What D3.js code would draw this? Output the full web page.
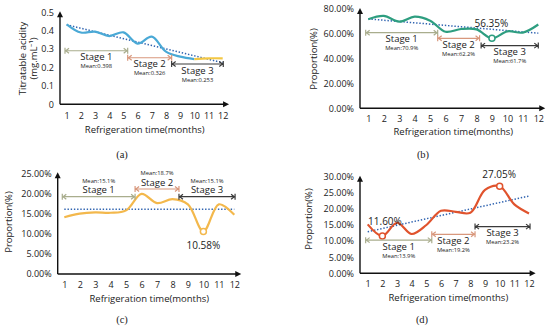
<!DOCTYPE html>
<html><head><meta charset="utf-8">
<script src="https://cdn.jsdelivr.net/npm/d3@7"></script>
<style>body{margin:0;background:#fff}svg{display:block;background:#fff}text{font-family:"Open Sans",sans-serif;fill:#222}</style>
</head><body><svg id="c" width="550" height="331"></svg>
<script>
const months=[1,2,3,4,5,6,7,8,9,10,11,12];
const acidityMonths=[1,2,3,4,5,6,7,8,9,10];
const acidity=[0.435,0.39,0.395,0.371,0.391,0.33,0.368,0.286,0.259,0.246];
const acidityTailMonths=[10,11,12];
const acidityTail=[0.246,0.25,0.25];
const propB=[71.7,74.4,69.8,73.8,70.6,61.7,63.9,63.6,56.35,62,61,67.5];
const propC=[14.1,15.0,15.3,15.2,15.8,19.9,17.6,18.6,17.3,10.58,17.3,14.7];
const propD=[15.2,11.6,15.7,12.2,15.0,19.4,19.1,18.8,25.9,27.05,21.4,18.6];
const trendA=[0.432,0.226];
const trendB=[72,60.5];
const trendC=[16.05,16.05];
const trendD=[12.9,24];
const ticksA=[0,0.1,0.2,0.3,0.4,0.5];
const ticksB=[0,20,40,60,80];
const ticksC=[0,5,10,15,20,25];
const ticksD=[0,5,10,15,20,25,30];
const stageNames=["Stage 1","Stage 2","Stage 3"];
const meansA=["Mean:0.398","Mean:0.326","Mean:0.253"];
const meansB=["Mean:70.9%","Mean:62.2%","Mean:61.7%"];
const meansC=["Mean:15.1%","Mean:18.7%","Mean:15.1%"];
const meansD=["Mean:13.9%","Mean:19.2%","Mean:23.2%"];
const stageSpanA=[[0.88,5.3],[5.3,8.4],[8.4,12.04]];
const stageLevelA=[0.291,0.253,0.219];
const stageSpanB=[[0.83,5.49],[5.49,8.2],[8.3,12]];
const stageLevelB=[60.9,56.4,50.5];
const stageSpanC=[[0.87,5.58],[5.58,8.42],[8.42,12.05]];
const stageLevelC=[19.2,21.1,19.2];
const stageSpanD=[[0.86,5.37],[5.37,8.32],[8.32,12.07]];
const stageLevelD=[10.3,12.1,14.5];
const highlightB=[9];
const highlightC=[10];
const highlightD=[2,10];
const stageColors=["#a9ad8d","#d8977c","#3a3a3a"];

const svg=d3.select("#c");
const fmtPct=d=>d.toFixed(2)+"%";
const fmtA=d=>d===0?"0":d.toFixed(1);

function panel(c){
  const g=svg.append("g");
  const x=d3.scaleLinear().domain([1,12]).range(c.xr);
  const y=d3.scaleLinear().domain([0,c.ymax]).range(c.yr);
  const ax=c.axisX, y0=y(0);
  const xEnd=x(12.45);
  g.append("line").attr("x1",ax).attr("x2",xEnd-4).attr("y1",y0).attr("y2",y0).attr("stroke","#111").attr("stroke-width",1.4);
  g.append("path").attr("d",`M${xEnd},${y0}L${xEnd-6},${y0-3}L${xEnd-6},${y0+3}Z`).attr("fill","#111");
  const yTop=y(c.ymax)-1;
  g.append("line").attr("x1",ax).attr("x2",ax).attr("y1",y0).attr("y2",yTop+4).attr("stroke","#111").attr("stroke-width",1.4);
  g.append("path").attr("d",`M${ax},${yTop}L${ax-3},${yTop+6}L${ax+3},${yTop+6}Z`).attr("fill","#111");
  const xa=g.append("g").attr("transform",`translate(0,${y0})`)
    .call(d3.axisBottom(x).tickValues(months).tickSize(0).tickPadding(c.tickPad).tickFormat(d3.format("d")));
  xa.select(".domain").remove();
  xa.selectAll("text").style("font-family","'Open Sans',sans-serif").style("font-size","9px").attr("fill","#222");
  const ya=g.append("g").attr("transform",`translate(${ax},0)`)
    .call(d3.axisLeft(y).tickValues(c.ticks).tickSize(0).tickPadding(6).tickFormat(c.fmt));
  ya.select(".domain").remove();
  ya.selectAll("text").style("font-family","'Open Sans',sans-serif").style("font-size","9px").attr("fill","#222");
  g.append("text").attr("x",(x(1)+x(12))/2).attr("y",c.titleY).attr("text-anchor","middle").attr("font-size",9.5).text("Refrigeration time(months)");
  c.yTitle.forEach((t,i)=>{
    g.append("text").attr("transform",`translate(${c.yTitleX[i]},${c.yTitleY}) rotate(-90)`).attr("text-anchor","middle").attr("dominant-baseline","central").attr("font-size",9.5).text(t);
  });
  g.append("text").attr("x",c.label[1]).attr("y",c.label[2]).attr("text-anchor","middle").attr("font-size",10.5).style("font-family","'Liberation Serif',serif").text(c.label[0]);
  g.append("line").attr("x1",x(1)).attr("x2",x(12)).attr("y1",y(c.trend[0])).attr("y2",y(c.trend[1]))
    .attr("stroke","#2f63b0").attr("stroke-width",1.5).attr("stroke-dasharray","1.4 1.8");
  const line=d3.line().x(d=>x(d[0])).y(d=>y(d[1])).curve(d3.curveCatmullRom.alpha(0.5));
  c.series.forEach(s=>{
    g.append("path").attr("d",line(d3.zip(s.m,s.v))).attr("fill","none").attr("stroke",s.color).attr("stroke-width",2.2).attr("stroke-linejoin","round");
  });
  const main=c.series[0];
  c.highlight.forEach((m,i)=>{
    const v=main.v[main.m.indexOf(m)];
    g.append("circle").attr("cx",x(m)).attr("cy",y(v)).attr("r",3).attr("fill","#fff").attr("stroke",main.color).attr("stroke-width",1.5);
    const o=c.hlOffset[i];
    g.append("text").attr("x",x(m)+o[0]).attr("y",y(v)+o[1]).attr("text-anchor","middle").attr("font-size",10).text(fmtPct(v));
  });
  c.spans.forEach((sp,i)=>{
    const col=stageColors[i], x0=x(sp[0]), x1=x(sp[1]), yy=y(c.levels[i]);
    const sg=g.append("g").attr("stroke",col).attr("fill","none").attr("stroke-width",1.2);
    sg.append("line").attr("x1",x0).attr("x2",x1).attr("y1",yy).attr("y2",yy);
    sg.append("path").attr("d",`M${x0},${yy-3}V${yy+3}M${x0+4},${yy-2.5}L${x0+0.8},${yy}L${x0+4},${yy+2.5}M${x1},${yy-3}V${yy+3}M${x1-4},${yy-2.5}L${x1-0.8},${yy}L${x1-4},${yy+2.5}`);
    const cx=(x0+x1)/2;
    const below=c.textBelow;
    g.append("text").attr("x",cx).attr("y",below?yy+9.5:yy-3.5).attr("text-anchor","middle").attr("font-size",9.5).text(stageNames[i]);
    g.append("text").attr("x",cx).attr("y",below?yy+17.5:yy-14).attr("text-anchor","middle").attr("font-size",5.8).attr("fill","#333").text(c.means[i]);
  });
}

panel({xr:[66.7,222.7],ymax:0.5,yr:[104.3,12.3],axisX:60,ticks:ticksA,fmt:fmtA,tickPad:8,titleY:133,
  yTitle:["Titratable acidity","(mg.mL\u207B\u00B9)"],yTitleX:[22.5,33],yTitleY:58.5,label:["(a)",122,158],
  trend:trendA,series:[{m:acidityMonths,v:acidity,color:"#4aa9d6"},{m:acidityTailMonths,v:acidityTail,color:"#f3c744"}],
  highlight:[],hlOffset:[],spans:stageSpanA,levels:stageLevelA,means:meansA,textBelow:true});
panel({xr:[368.3,538.3],ymax:80,yr:[108.3,9],axisX:360,ticks:ticksB,fmt:fmtPct,tickPad:7,titleY:135,
  yTitle:["Proportion(%)"],yTitleX:[313],yTitleY:59,label:["(b)",423,158],
  trend:trendB,series:[{m:months,v:propB,color:"#2e9e80"}],
  highlight:highlightB,hlOffset:[[-0.5,-11]],spans:stageSpanB,levels:stageLevelB,means:meansB,textBelow:true});
panel({xr:[64.3,234.3],ymax:25,yr:[274,173.3],axisX:57.7,ticks:ticksC,fmt:fmtPct,tickPad:8,titleY:301.5,
  yTitle:["Proportion(%)"],yTitleX:[8.5],yTitleY:222,label:["(c)",122,323],
  trend:trendC,series:[{m:months,v:propC,color:"#f3b84c"}],
  highlight:highlightC,hlOffset:[[0,18]],spans:stageSpanC,levels:stageLevelC,means:meansC,textBelow:false});
panel({xr:[367.7,529],ymax:30,yr:[273.3,176.7],axisX:360,ticks:ticksD,fmt:fmtPct,tickPad:7,titleY:300.5,
  yTitle:["Proportion(%)"],yTitleX:[308.5],yTitleY:219,label:["(d)",422,323],
  trend:trendD,series:[{m:months,v:propD,color:"#e0532d"}],
  highlight:highlightD,hlOffset:[[2.6,-11],[-0.5,-8]],spans:stageSpanD,levels:stageLevelD,means:meansD,textBelow:true});
</script></body></html>
